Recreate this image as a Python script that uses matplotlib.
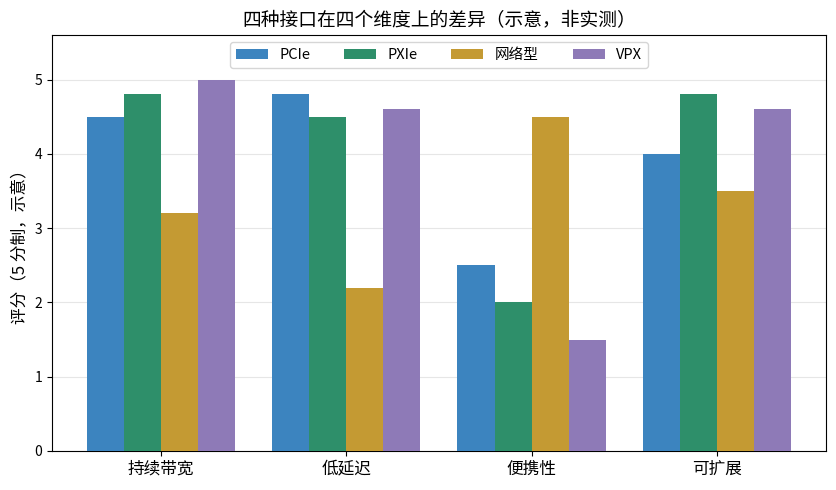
import matplotlib
matplotlib.use("Agg")
import matplotlib.pyplot as plt
import numpy as np

plt.rcParams['font.family'] = ['Noto Sans CJK SC', 'DejaVu Sans']

categories = ["持续带宽", "低延迟", "便携性", "可扩展"]
series_names = ["PCIe", "PXIe", "网络型", "VPX"]
pcie = [4.5, 4.8, 2.5, 4.0]
pxie = [4.8, 4.5, 2.0, 4.8]
network = [3.2, 2.2, 4.5, 3.5]
vpx = [5.0, 4.6, 1.5, 4.6]
values = [pcie, pxie, network, vpx]
colors = ["#3c84bf", "#2e8f6a", "#c49a33", "#8e7ab7"]

fig = plt.figure(figsize=(8.36, 4.9), dpi=100)
ax = fig.add_axes([0.0622, 0.0796, 0.9258, 0.849])

x = np.arange(len(categories))
w = 0.2
for i, (name, vals, c) in enumerate(zip(series_names, values, colors)):
    ax.bar(x + (i - 1.5) * w, vals, width=w, color=c, label=name, zorder=3)

ax.set_ylim(0, 5.6)
ax.set_xticks(x)
ax.set_xticklabels(categories, fontsize=12)
ax.tick_params(axis='y', labelsize=10)
ax.set_ylabel("评分（5 分制，示意）", fontsize=12)
ax.set_title("四种接口在四个维度上的差异（示意，非实测）", fontsize=13.5)
ax.grid(axis='y', color='#e6e6e6', linewidth=0.8, zorder=0)
ax.set_axisbelow(True)
ax.legend(loc='upper center', ncol=4, fontsize=10.5, frameon=True,
          columnspacing=2.3, handlelength=2.2)

fig.savefig("out.png", dpi=100)
